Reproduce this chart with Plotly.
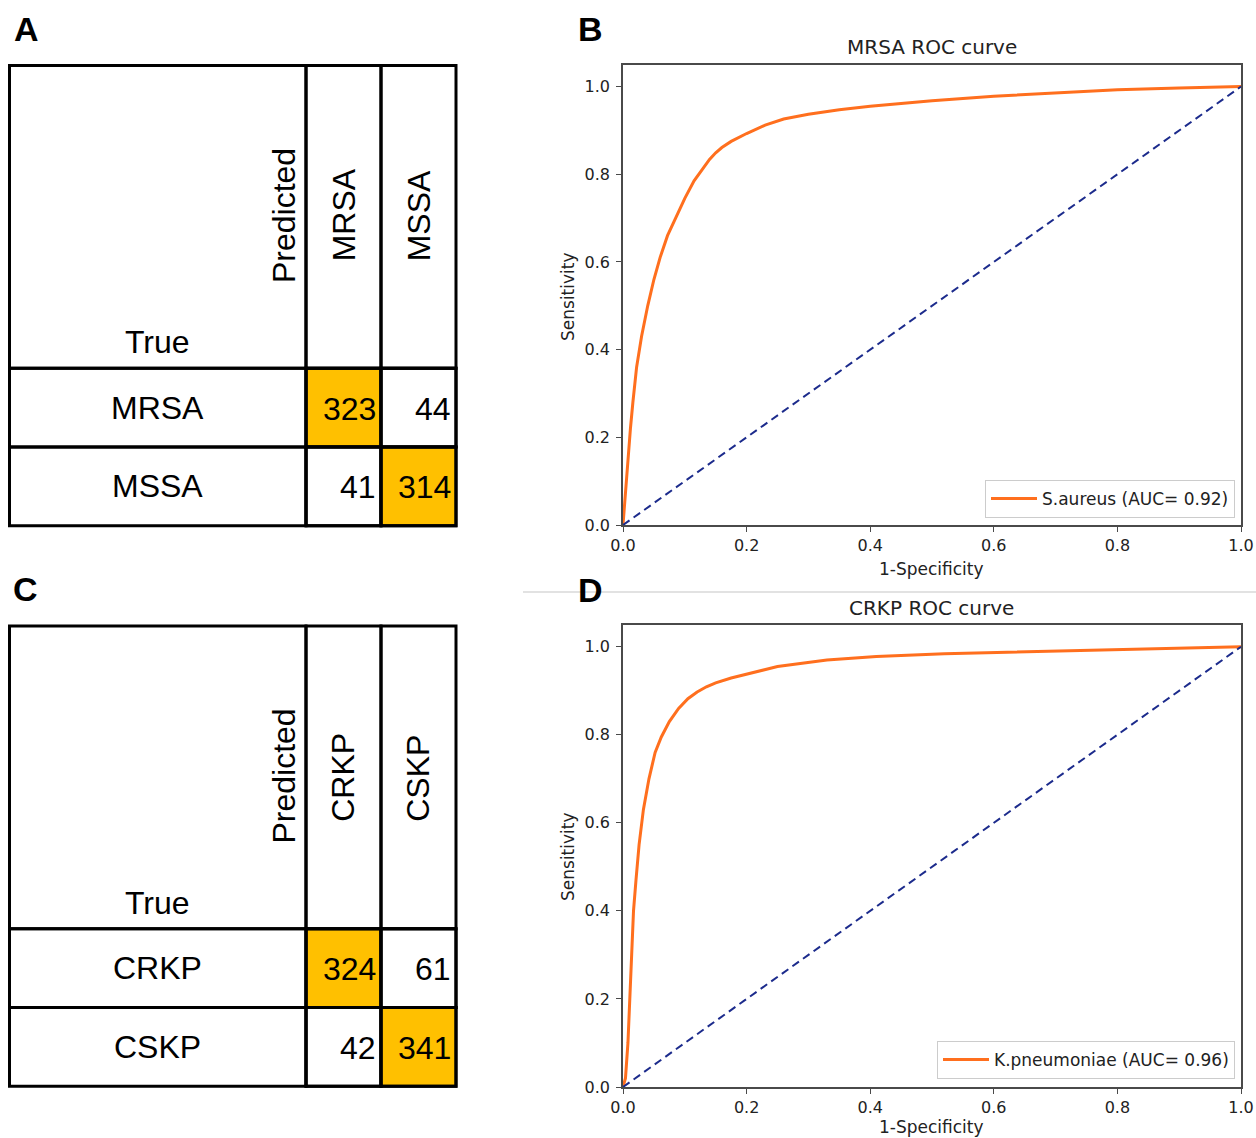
import plotly.graph_objects as go

W, H = 1256, 1138

# ---------------- data ----------------
classes_a = ["MRSA", "MSSA"]
matrix_a = [[323, 44], [41, 314]]
classes_c = ["CRKP", "CSKP"]
matrix_c = [[324, 61], [42, 341]]

fpr_b = [0, 0.004, 0.008, 0.012, 0.016, 0.022, 0.030, 0.040, 0.050, 0.060, 0.072, 0.085,
         0.100, 0.115, 0.130, 0.140, 0.150, 0.160, 0.175, 0.200, 0.230, 0.260, 0.300,
         0.350, 0.400, 0.450, 0.500, 0.600, 0.700, 0.800, 0.900, 1.0]
tpr_b = [0, 0.08, 0.16, 0.22, 0.28, 0.36, 0.43, 0.50, 0.56, 0.61, 0.66, 0.70,
         0.745, 0.785, 0.815, 0.834, 0.849, 0.861, 0.875, 0.893, 0.912, 0.926, 0.937,
         0.947, 0.955, 0.962, 0.968, 0.978, 0.986, 0.993, 0.997, 1.0]
label_b = "S.aureus (AUC= 0.92)"
title_b = "MRSA ROC curve"

fpr_d = [0, 0.004, 0.008, 0.011, 0.014, 0.017, 0.021, 0.026, 0.033, 0.042, 0.052, 0.062,
         0.075, 0.090, 0.105, 0.120, 0.135, 0.150, 0.175, 0.200, 0.250, 0.330, 0.410,
         0.520, 0.670, 0.820, 1.0]
tpr_d = [0, 0.02, 0.10, 0.19, 0.30, 0.40, 0.47, 0.55, 0.63, 0.70, 0.76, 0.795,
         0.83, 0.86, 0.882, 0.897, 0.909, 0.918, 0.929, 0.938, 0.955, 0.970, 0.978,
         0.984, 0.989, 0.994, 1.0]
label_d = "K.pneumoniae (AUC= 0.96)"
title_d = "CRKP ROC curve"

chance = [0, 1]
ticks = [0.0, 0.2, 0.4, 0.6, 0.8, 1.0]
tick_text = ["0.0", "0.2", "0.4", "0.6", "0.8", "1.0"]

# ---------------- styles ----------------
ORANGE = "#ff6f1e"
NAVY = "#1c2b8c"
SPINE = "#4a4a4a"
GOLD = "#FFC000"
MPL_FONT = "DejaVu Sans"
ARIAL = "Liberation Sans, Arial"

def px_x(p):
    return p / W

def px_y(p):
    return 1 - p / H

fig = go.Figure()

# ---------------- ROC panels ----------------
roc_panels = [
    dict(ax="", fpr=fpr_b, tpr=tpr_b, label=label_b, title=title_b, top=64.7, bottom=525.0,
         legend="legend", title_y=47, xlab_y=569, ylab_y=297),
    dict(ax="2", fpr=fpr_d, tpr=tpr_d, label=label_d, title=title_d, top=624.7, bottom=1087.0,
         legend="legend2", title_y=608, xlab_y=1127, ylab_y=857),
]
X_LEFT, X_RIGHT = 623.0, 1241.0

for p in roc_panels:
    xa = "x" + p["ax"]
    ya = "y" + p["ax"]
    fig.add_trace(go.Scatter(x=p["fpr"], y=p["tpr"], mode="lines", name=p["label"],
                             line=dict(color=ORANGE, width=3), xaxis=xa, yaxis=ya,
                             legend=p["legend"], showlegend=True))
    fig.add_trace(go.Scatter(x=chance, y=chance, mode="lines", showlegend=False,
                             line=dict(color=NAVY, width=2, dash="8px,5px"),
                             xaxis=xa, yaxis=ya))
    axis_common = dict(showline=True, mirror=True, linecolor=SPINE, linewidth=1.5,
                       showgrid=False, zeroline=False, ticks="outside", ticklen=5,
                       tickcolor=SPINE, tickwidth=1.2, tickvals=ticks, ticktext=tick_text,
                       automargin=False,
                       tickfont=dict(family=MPL_FONT, size=16, color="#222"))
    fig.layout["xaxis" + p["ax"]] = dict(
        axis_common, domain=[px_x(X_LEFT), px_x(X_RIGHT)], range=[0, 1],
        anchor="y" + p["ax"])
    fig.layout["yaxis" + p["ax"]] = dict(
        axis_common, domain=[px_y(p["bottom"]), px_y(p["top"])], range=[0, 1.05],
        anchor="x" + p["ax"], ticklabelstandoff=3)
    # title and axis labels
    fig.add_annotation(x=px_x((X_LEFT + X_RIGHT) / 2), y=px_y(p["title_y"]), xref="paper",
                       yref="paper", text=p["title"], showarrow=False,
                       font=dict(family=MPL_FONT, size=20, color="#222"),
                       xanchor="center", yanchor="middle")
    fig.add_annotation(x=px_x(932), y=px_y(p["xlab_y"]), xref="paper", yref="paper",
                       text="1-Specificity", showarrow=False,
                       font=dict(family=MPL_FONT, size=17, color="#222"),
                       xanchor="center", yanchor="middle")
    fig.add_annotation(x=px_x(568), y=px_y(p["ylab_y"]), xref="paper", yref="paper",
                       text="Sensitivity", showarrow=False, textangle=-90,
                       font=dict(family=MPL_FONT, size=17, color="#222"),
                       xanchor="center", yanchor="middle")

leg_common = dict(bgcolor="white", bordercolor="#cccccc", borderwidth=1,
                  font=dict(family=MPL_FONT, size=17, color="#222"),
                  xanchor="right", yanchor="bottom", itemwidth=46,
                  xref="paper", yref="paper")
fig.update_layout(
    legend=dict(leg_common, x=px_x(1235), y=px_y(518)),
    legend2=dict(leg_common, x=px_x(1235), y=px_y(1079)),
)

# ---------------- confusion-matrix tables ----------------
COL_W = 75.0          # px per class column
ROW_H = 78.7          # px per class row
HEAD_W = 296.5        # px width of header column
HEAD_H = 302.8        # px height of header row
PAD = 4.0             # px padding around table in axis domain
HC = HEAD_W / COL_W
HR = HEAD_H / ROW_H

tables = [
    dict(ax="3", classes=classes_a, m=matrix_a, left=9.5, top=65.5),
    dict(ax="4", classes=classes_c, m=matrix_c, left=9.5, top=626.0),
]

for t in tables:
    n = len(t["classes"])
    xa = "x" + t["ax"]
    ya = "y" + t["ax"]
    left_px = t["left"]
    right_px = left_px + HEAD_W + n * COL_W
    top_px = t["top"]
    bottom_px = top_px + HEAD_H + n * ROW_H
    fig.layout["xaxis" + t["ax"]] = dict(
        domain=[px_x(left_px - PAD), px_x(right_px + PAD)], automargin=False,
        range=[-HC - PAD / COL_W, n + PAD / COL_W], visible=False, anchor=ya, fixedrange=True)
    fig.layout["yaxis" + t["ax"]] = dict(
        domain=[px_y(bottom_px + PAD), px_y(top_px - PAD)], automargin=False,
        range=[n + PAD / ROW_H, -HR - PAD / ROW_H], visible=False, anchor=xa, fixedrange=True)

    line = dict(color="black", width=3)
    # header cells
    fig.add_shape(type="rect", xref=xa, yref=ya, x0=-HC, x1=0, y0=-HR, y1=0, line=line)
    for j, name in enumerate(t["classes"]):
        fig.add_shape(type="rect", xref=xa, yref=ya, x0=j, x1=j + 1, y0=-HR, y1=0, line=line)
        fig.add_annotation(x=j + 0.5, y=-105.0 / ROW_H, xref=xa, yref=ya,
                           text=name, textangle=-90, showarrow=False,
                           font=dict(family=ARIAL, size=32, color="black"),
                           xanchor="center", yanchor="bottom")
    fig.add_annotation(x=-0.29, y=-83.0 / ROW_H, xref=xa, yref=ya, text="Predicted",
                       textangle=-90, showarrow=False,
                       font=dict(family=ARIAL, size=32, color="black"),
                       xanchor="center", yanchor="bottom")
    fig.add_annotation(x=-HC / 2, y=-0.08, xref=xa, yref=ya, text="True", showarrow=False,
                       font=dict(family=ARIAL, size=32, color="black"),
                       xanchor="center", yanchor="bottom")
    # class rows
    for i, name in enumerate(t["classes"]):
        fig.add_shape(type="rect", xref=xa, yref=ya, x0=-HC, x1=0, y0=i, y1=i + 1, line=line)
        fig.add_annotation(x=-HC / 2, y=i + 0.5, xref=xa, yref=ya, text=name, showarrow=False,
                           font=dict(family=ARIAL, size=32, color="black"),
                           xanchor="center", yanchor="middle")
        for j in range(n):
            fill = GOLD if i == j else "white"
            fig.add_shape(type="rect", xref=xa, yref=ya, x0=j, x1=j + 1, y0=i, y1=i + 1,
                          line=line, fillcolor=fill, layer="below")
            fig.add_shape(type="rect", xref=xa, yref=ya, x0=j, x1=j + 1, y0=i, y1=i + 1,
                          line=line)
            fig.add_annotation(x=j + 1, y=i + 0.5, xref=xa, yref=ya, text=str(t["m"][i][j]),
                               showarrow=False, xshift=-3, yshift=-1,
                               font=dict(family=ARIAL, size=32, color="black"),
                               xanchor="right", yanchor="middle")

# ---------------- panel letters & separator ----------------
for letter, cx, cy in [("A", 26, 29), ("B", 590, 29), ("C", 25, 589), ("D", 590, 590)]:
    fig.add_annotation(x=px_x(cx), y=px_y(cy), xref="paper", yref="paper", text=letter,
                       showarrow=False, font=dict(family=ARIAL, size=34, color="black", weight="bold"),
                       xanchor="center", yanchor="middle")

fig.add_shape(type="line", xref="paper", yref="paper", x0=px_x(523), x1=1.0,
              y0=px_y(592), y1=px_y(592), line=dict(color="#d9d9d9", width=1.5), layer="below")

fig.update_layout(width=W, height=H, margin=dict(l=0, r=0, t=0, b=0, autoexpand=False),
                  paper_bgcolor="white", plot_bgcolor="white")

fig.write_html("out.html")
